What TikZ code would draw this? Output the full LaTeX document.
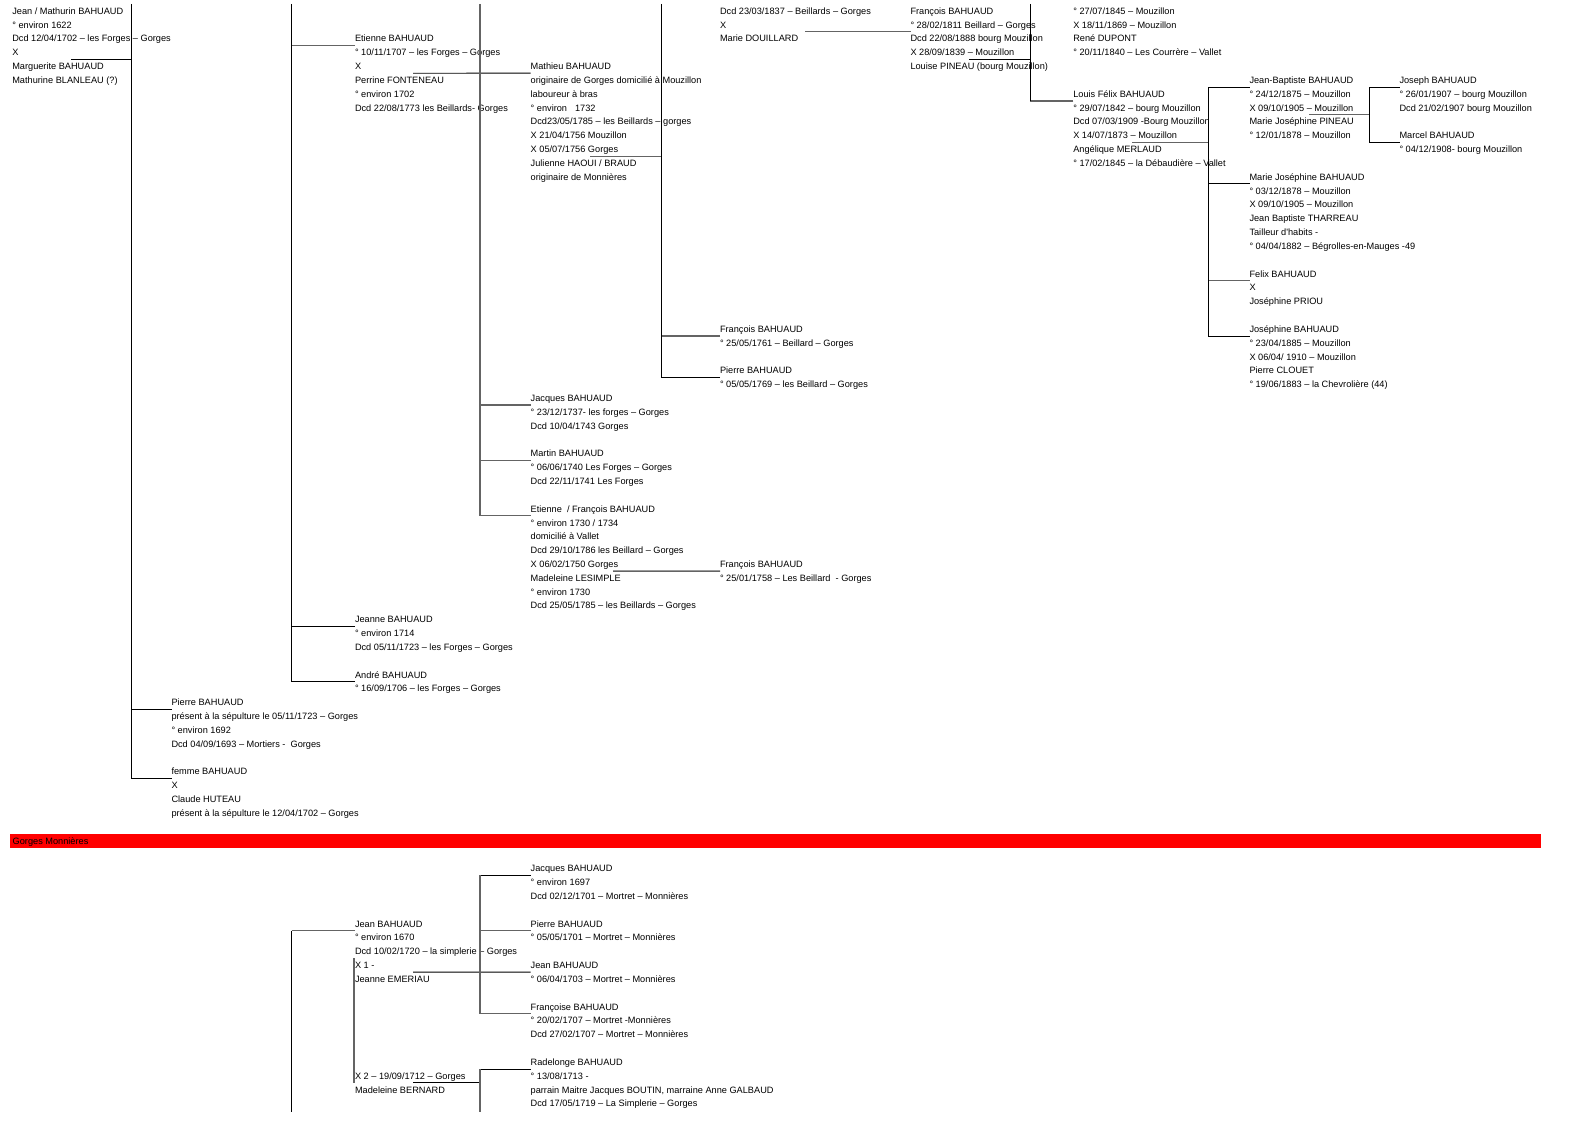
\documentclass[tikz,border=0pt]{standalone}
\usepackage{fontspec}
\setmainfont{Liberation Sans}
\newcommand\rowb[1]{14.3+13.83*#1}
\newcommand\bdy[1]{17.915+13.83*#1}
\newcommand\tb[1]{\begin{tabular}[t]{@{}l@{}}#1\end{tabular}}
\definecolor{lgray}{RGB}{100,100,100}
\definecolor{bred}{RGB}{255,0,0}
\tikzset{
  tx/.style={anchor=base west, inner sep=0pt, outer sep=0pt, font=\fontsize{9.2}{13.83}\selectfont},
  bk/.style={draw=black, line width=0.95pt},
  gy/.style={draw=lgray, line width=1.4pt}
}
\begin{document}
\begin{tikzpicture}[x=1pt,y=-1pt]
\fill[white] (0,0) rectangle (1588,1123);
\useasboundingbox (0,0) rectangle (1588,1123);

% red bar
\fill[bred] (10,{\bdy{59}}) rectangle (1540.5,{\bdy{60}});
\node[tx] (barlabel) at (12.7,{\rowb{60}}) {Gorges Monnières};

% ---------- text blocks ----------
\node[tx] (jean) at (12.3,{\rowb{0}}) {\tb{Jean / Mathurin BAHUAUD\\° environ 1622\\Dcd 12/04/1702 – les Forges – Gorges\\X\\Marguerite BAHUAUD\\Mathurine BLANLEAU (?)}};
\node[tx] (etienne) at (355,{\rowb{2}}) {\tb{Etienne BAHUAUD\\° 10/11/1707 – les Forges – Gorges\\X\\Perrine FONTENEAU\\° environ 1702\\Dcd 22/08/1773 les Beillards- Gorges}};
\node[tx] (mathieu) at (530.7,{\rowb{4}}) {\tb{Mathieu BAHUAUD\\originaire de Gorges domicilié à Mouzillon\\laboureur à bras\\° environ\hspace{8pt}1732\\Dcd23/05/1785 – les Beillards – gorges\\X 21/04/1756 Mouzillon\\X 05/07/1756 Gorges\\Julienne HAOUI / BRAUD\\originaire de Monnières}};
\node[tx] (d1837) at (720,{\rowb{0}}) {\tb{Dcd 23/03/1837 – Beillards – Gorges\\X\\Marie DOUILLARD}};
\node[tx] (f1811) at (910.5,{\rowb{0}}) {\tb{François BAHUAUD\\° 28/02/1811 Beillard – Gorges\\Dcd 22/08/1888 bourg Mouzillon\\X 28/09/1839 – Mouzillon\\Louise PINEAU (bourg Mouzillon)}};
\node[tx] (rene) at (1073.3,{\rowb{0}}) {\tb{° 27/07/1845 – Mouzillon\\X 18/11/1869 – Mouzillon\\René DUPONT\\° 20/11/1840 – Les Courrère – Vallet}};
\node[tx] (louis) at (1073.3,{\rowb{6}}) {\tb{Louis Félix BAHUAUD\\° 29/07/1842 – bourg Mouzillon\\Dcd 07/03/1909 -Bourg Mouzillon\\X 14/07/1873 – Mouzillon\\Angélique MERLAUD\\° 17/02/1845 – la Débaudière – Vallet}};
\node[tx] (jb) at (1249.5,{\rowb{5}}) {\tb{Jean-Baptiste BAHUAUD\\° 24/12/1875 – Mouzillon\\X 09/10/1905 – Mouzillon\\Marie Joséphine PINEAU\\° 12/01/1878 – Mouzillon}};
\node[tx] (joseph) at (1399.5,{\rowb{5}}) {\tb{Joseph BAHUAUD\\° 26/01/1907 – bourg Mouzillon\\Dcd 21/02/1907 bourg Mouzillon}};
\node[tx] (marcel) at (1399.5,{\rowb{9}}) {\tb{Marcel BAHUAUD\\° 04/12/1908- bourg Mouzillon}};
\node[tx] (mariejo) at (1249.5,{\rowb{12}}) {\tb{Marie Joséphine BAHUAUD\\° 03/12/1878 – Mouzillon\\X 09/10/1905 – Mouzillon\\Jean Baptiste THARREAU\\Tailleur d\textquotesingle habits -\\° 04/04/1882 – Bégrolles-en-Mauges -49}};
\node[tx] (felix) at (1249.5,{\rowb{19}}) {\tb{Felix BAHUAUD\\X\\Joséphine PRIOU}};
\node[tx] (josephine) at (1249.5,{\rowb{23}}) {\tb{Joséphine BAHUAUD\\° 23/04/1885 – Mouzillon\\X 06/04/ 1910 – Mouzillon\\Pierre CLOUET\\° 19/06/1883 – la Chevrolière (44)}};
\node[tx] (f1761) at (720,{\rowb{23}}) {\tb{François BAHUAUD\\° 25/05/1761 – Beillard – Gorges}};
\node[tx] (p1769) at (720,{\rowb{26}}) {\tb{Pierre BAHUAUD\\° 05/05/1769 – les Beillard – Gorges}};
\node[tx] (jac1737) at (530.7,{\rowb{28}}) {\tb{Jacques BAHUAUD\\° 23/12/1737- les forges – Gorges\\Dcd 10/04/1743 Gorges}};
\node[tx] (martin) at (530.7,{\rowb{32}}) {\tb{Martin BAHUAUD\\° 06/06/1740 Les Forges – Gorges\\Dcd 22/11/1741 Les Forges}};
\node[tx] (etfr) at (530.7,{\rowb{36}}) {\tb{Etienne\ \ / François BAHUAUD\\° environ 1730 / 1734\\domicilié à Vallet\\Dcd 29/10/1786 les Beillard – Gorges\\X 06/02/1750 Gorges\\Madeleine LESIMPLE\\° environ 1730\\Dcd 25/05/1785 – les Beillards – Gorges}};
\node[tx] (f1758) at (720,{\rowb{40}}) {\tb{François BAHUAUD\\° 25/01/1758 – Les Beillard\ \ - Gorges}};
\node[tx] (jeanne) at (355,{\rowb{44}}) {\tb{Jeanne BAHUAUD\\° environ 1714\\Dcd 05/11/1723 – les Forges – Gorges}};
\node[tx] (andre) at (355,{\rowb{48}}) {\tb{André BAHUAUD\\° 16/09/1706 – les Forges – Gorges}};
\node[tx] (p1692) at (171.5,{\rowb{50}}) {\tb{Pierre BAHUAUD\\présent à la sépulture le 05/11/1723 – Gorges\\° environ 1692\\Dcd 04/09/1693 – Mortiers -\ \ Gorges}};
\node[tx] (femme) at (171.5,{\rowb{55}}) {\tb{femme BAHUAUD\\X\\Claude HUTEAU\\présent à la sépulture le 12/04/1702 – Gorges}};
\node[tx] (jac1697) at (530.7,{\rowb{62}}) {\tb{Jacques BAHUAUD\\° environ 1697\\Dcd 02/12/1701 – Mortret – Monnières}};
\node[tx] (jean1670) at (355,{\rowb{66}}) {\tb{Jean BAHUAUD\\° environ 1670\\Dcd 10/02/1720 – la simplerie – Gorges\\X 1 -\\Jeanne EMERIAU}};
\node[tx] (p1701) at (530.7,{\rowb{66}}) {\tb{Pierre BAHUAUD\\° 05/05/1701 – Mortret – Monnières}};
\node[tx] (jean1703) at (530.7,{\rowb{69}}) {\tb{Jean BAHUAUD\\° 06/04/1703 – Mortret – Monnières}};
\node[tx] (francoise) at (530.7,{\rowb{72}}) {\tb{Françoise BAHUAUD\\° 20/02/1707 – Mortret -Monnières\\Dcd 27/02/1707 – Mortret – Monnières}};
\node[tx] (radelonge) at (530.7,{\rowb{76}}) {\tb{Radelonge BAHUAUD\\° 13/08/1713 -\\parrain Maitre Jacques BOUTIN, marraine Anne GALBAUD\\Dcd 17/05/1719 – La Simplerie – Gorges}};
\node[tx] (bernard) at (355,{\rowb{77}}) {\tb{X 2 – 19/09/1712 – Gorges\\Madeleine BERNARD}};

% ---------- junction points under name lines ----------
\foreach \n in {etienne,mathieu,louis,jb,joseph,marcel,mariejo,felix,josephine,f1761,p1769,jac1737,martin,etfr,f1758,jeanne,andre,p1692,femme,jac1697,jean1670,p1701,jean1703,francoise,radelonge}
  {\coordinate (\n-j) at ([yshift=-3.6pt]\n.base west);}

% ---------- spine coordinates ----------
\coordinate (s1t) at (131.7,4);   \coordinate (s1b) at (131.7,{\bdy{55}});
\coordinate (s2t) at (291.7,4);   \coordinate (s2b) at (291.7,{\bdy{48}});
\coordinate (s3t) at (480,4);     \coordinate (s3b) at (480,{\bdy{36}});
\coordinate (s4t) at (661,4);     \coordinate (s4b) at (661,{\bdy{26}});
\coordinate (s5t) at (1030,4);    \coordinate (s5b) at (1030,{\bdy{6}});
\coordinate (s6t) at (1208,{\bdy{5}}); \coordinate (s6b) at (1208,{\bdy{23}});
\coordinate (s7t) at (1369,{\bdy{5}}); \coordinate (s7b) at (1369,{\bdy{9}});
\coordinate (s8t) at (291.7,{\bdy{66}}); \coordinate (s8b) at (291.7,1112);
\coordinate (s9t) at (480,{\bdy{62}}); \coordinate (s9b) at (480,{\bdy{72}});
\coordinate (s10t) at (480,{\bdy{76}}); \coordinate (s10b) at (480,1112);
\coordinate (brt) at (354,{\bdy{68}}); \coordinate (brb) at (354,{\bdy{77}});

% marriage line starts
\coordinate (jean-m) at (71,{\bdy{3}});
\coordinate (etienne-m) at (413,{\bdy{4}});
\coordinate (mathieu-m) at (590,{\bdy{10}});
\coordinate (etfr-m) at (613,{\bdy{40}});
\coordinate (d1837-m) at (805,{\bdy{1}});
\coordinate (f1811-p) at (910.5,{\bdy{1}});
\coordinate (f1811-m) at (969,{\bdy{3}});
\coordinate (louis-m) at (1132,{\bdy{9}});
\coordinate (jb-m) at (1309,{\bdy{7}});
\coordinate (jean1670-m) at (413,{\bdy{69}});
\coordinate (bernard-m) at (413,{\bdy{77}});

% ---------- connectors ----------
\draw[bk] (jean-m) -- (s1t |- jean-m);
\draw[bk] (p1692-j) -- (s1t |- p1692-j);
\draw[bk] (femme-j) -- (s1t |- femme-j);
\draw[bk] (s1t) -- (s1b);
\draw[gy] (etienne-j) -- (s2t |- etienne-j);
\draw[bk] (jeanne-j) -- (s2t |- jeanne-j);
\draw[bk] (andre-j) -- (s2t |- andre-j);
\draw[bk] (s2t) -- (s2b);
\draw[bk] (etienne-m) -- (mathieu-j);
\draw[gy] (jac1737-j) -- (s3t |- jac1737-j);
\draw[gy] (martin-j) -- (s3t |- martin-j);
\draw[gy] (etfr-j) -- (s3t |- etfr-j);
\draw[gy] (s3t) -- (s3b);
\draw[gy] (mathieu-m) -- (s4t |- mathieu-m);
\draw[gy] (f1761-j) -- (s4t |- f1761-j);
\draw[bk] (p1769-j) -- (s4t |- p1769-j);
\draw[bk] (s4t) -- (s4b);
\draw[gy] (etfr-m) -- (f1758-j);
\draw[gy] (d1837-m) -- (f1811-p);
\draw[bk] (f1811-m) -- (s5t |- f1811-m);
\draw[gy] (louis-j) -- (s5t |- louis-j);
\draw[bk] (s5t) -- (s5b);
\draw[gy] (louis-m) -- (s6t |- louis-m);
\draw[bk] (jb-j) -- (s6t |- jb-j);
\draw[bk] (mariejo-j) -- (s6t |- mariejo-j);
\draw[gy] (felix-j) -- (s6t |- felix-j);
\draw[bk] (josephine-j) -- (s6t |- josephine-j);
\draw[bk] (s6t) -- (s6b);
\draw[gy] (jb-m) -- (s7t |- jb-m);
\draw[bk] (joseph-j) -- (s7t |- joseph-j);
\draw[bk] (marcel-j) -- (s7t |- marcel-j);
\draw[bk] (s7t) -- (s7b);
\draw[gy] (jean1670-j) -- (s8t |- jean1670-j);
\draw[bk] (s8t) -- (s8b);
\draw[draw=lgray, line width=1.8pt] (brt) -- (brb);
\draw[bk] (jean1670-m) -- (jean1703-j);
\draw[bk] (jac1697-j) -- (s9t |- jac1697-j);
\draw[gy] (p1701-j) -- (s9t |- p1701-j);
\draw[gy] (francoise-j) -- (s9t |- francoise-j);
\draw[gy] (s9t) -- (s9b);
\draw[bk] (bernard-m) -- (s10t |- bernard-m);
\draw[bk] (radelonge-j) -- (s10t |- radelonge-j);
\draw[gy] (s10t) -- (s10b);
\end{tikzpicture}
\end{document}
